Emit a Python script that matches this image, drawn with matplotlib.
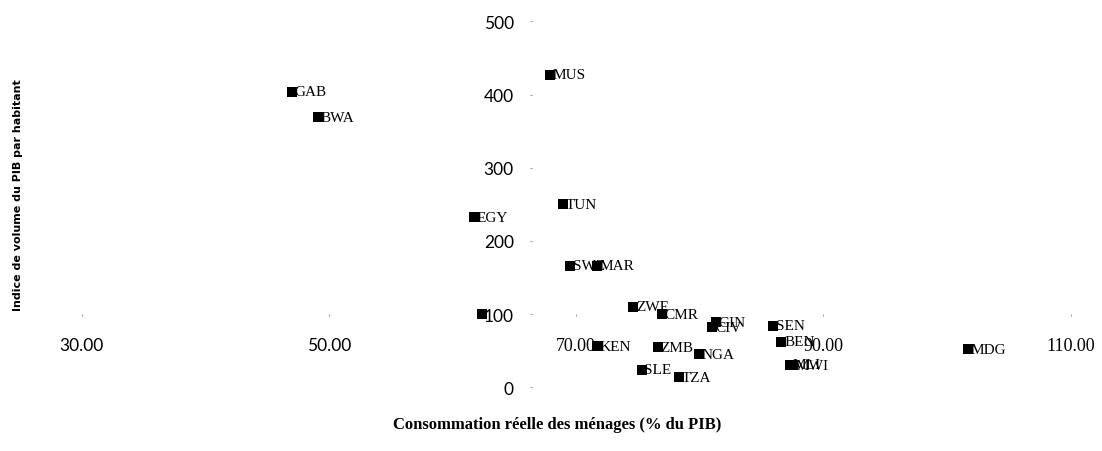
import matplotlib
matplotlib.use("Agg")
import matplotlib.pyplot as plt

# ---- data ----
countries = ["GAB", "BWA", "MUS", "TUN", "EGY", "SWZ", "MAR", "", "ZWE", "CMR",
             "GIN", "CIV", "SEN", "BEN", "MLI", "MWI", "MDG", "KEN", "ZMB", "NGA",
             "SLE", "TZA"]
consumption = [47.0, 49.1, 67.9, 68.9, 61.7, 69.5, 71.7, 62.4, 74.6, 76.9,
               81.3, 81.0, 85.9, 86.6, 87.3, 87.5, 101.7, 71.7, 76.6, 79.9,
               75.3, 78.3]
gdp_index = [404, 369, 427, 250, 232, 166, 166, 100, 110, 100,
             89, 82, 84, 62, 31, 30, 52, 56, 55, 45,
             24, 14]
x_ticks = [30, 50, 70, 90, 110]
x_tick_labels = ["30.00", "50.00", "70.00", "90.00", "110.00"]
y_ticks = [0, 100, 200, 300, 400, 500]
y_tick_labels = ["0", "100", "200", "300", "400", "500"]

W, H = 1102, 452
fig = plt.figure(figsize=(W / 100, H / 100), dpi=100)
ax = fig.add_axes([81.7 / W, (H - 388.3) / H, (1070.7 - 81.7) / W, (388.3 - 22.3) / H])
ax.set_xlim(30, 110)
ax.set_ylim(0, 500)
ax.set_facecolor("none")

for s in ["top", "right"]:
    ax.spines[s].set_visible(False)
ax.spines["left"].set_position(("data", 66.43))
ax.spines["bottom"].set_position(("data", 100))
ax.spines["left"].set_visible(False)
ax.spines["bottom"].set_visible(False)

ax.set_xticks(x_ticks)
ax.set_xticklabels(x_tick_labels)
ax.set_yticks(y_ticks)
ax.set_yticklabels(y_tick_labels)
ax.tick_params(axis="x", length=1.2, width=0.8, color="#9a9a9a", pad=15, labelsize=12.5)
ax.tick_params(axis="y", length=1.2, width=0.8, color="#9a9a9a", pad=12, labelsize=12.5)

for lab in ax.get_yticklabels():
    lab.set_family("Lato")
for lab, v in zip(ax.get_xticklabels(), x_ticks):
    if v < 70:
        lab.set_family("Lato")
    else:
        lab.set_family("Liberation Serif")
        lab.set_fontsize(13)

ax.scatter(consumption, gdp_index, marker="s", s=42, color="black", zorder=3,
           linewidths=0)
for name, xv, yv in zip(countries, consumption, gdp_index):
    if name:
        ax.annotate(name, (xv, yv), xytext=(2, 0), textcoords="offset points",
                    ha="left", va="center", fontsize=11, family="Liberation Serif",
                    color="black", zorder=4)

fig.text(557 / W, 1 - 425 / H, "Consommation réelle des ménages (% du PIB)",
         ha="center", va="center", fontsize=12, fontweight="bold",
         family="Liberation Serif")
fig.text(18 / W, 1 - 195 / H, "Indice de volume du PIB par habitant",
         ha="center", va="center", rotation=90, fontsize=8, fontweight="bold",
         family="DejaVu Sans")

fig.savefig("out.png", dpi=100)
